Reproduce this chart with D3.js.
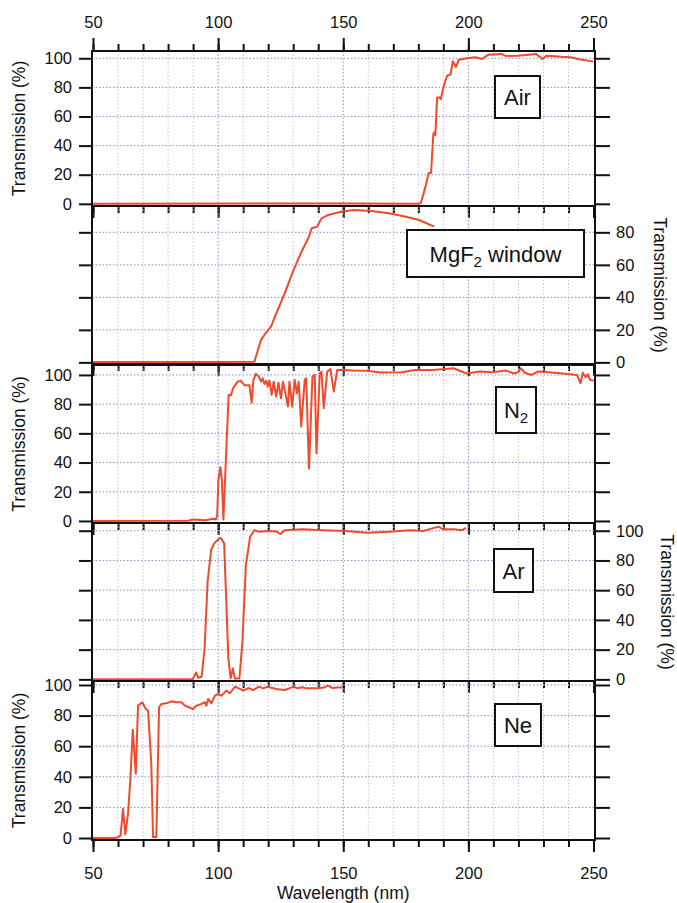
<!DOCTYPE html>
<html>
<head>
<meta charset="utf-8">
<script src="https://cdn.jsdelivr.net/npm/d3@7"></script>
<style>
  body { margin: 0; background: #fff; }
  svg text { font-family: "Liberation Sans", Arial, Helvetica, sans-serif; fill: #111; }
</style>
</head>
<body>
<div id="chart"></div>
<script>
// data (wavelength in nm, transmission in %)
const airNm = [50, 120, 150, 180, 181, 182.9, 184.1, 185.1, 186, 186.3, 186.8, 187.5, 188.4, 189, 190.3, 191.5, 192.9, 193.8, 195, 196.2, 199.3, 202.8, 205.4, 208, 213.1, 214.9, 220, 227, 229.6, 231.3, 237.4, 240.8, 244.3, 250];
const airT = [0, 0.2, 0.3, 0, 0.5, 12, 21, 21.4, 48, 49, 47, 73, 73, 72, 82, 88, 89, 98, 94, 99, 100, 100.7, 99.5, 102.5, 103, 101.6, 101.8, 103, 99.5, 101.8, 101, 100.7, 99.3, 97.7];

const mgf2Nm = [50, 100, 114.5, 115.9, 117.1, 118.9, 121.1, 123.2, 126.6, 130.1, 133.6, 136.2, 137.4, 139.6, 141.3, 144, 149.1, 154.3, 161.2, 168.2, 175.1, 180.3, 186.3];
const mgf2T = [0.2, 0.3, 0.4, 7.6, 13.7, 17.8, 22, 30, 42.5, 56.8, 69, 77, 82.5, 83.5, 88.6, 90.7, 92.7, 93.7, 93.1, 91.7, 89.6, 87.6, 83.5];

const n2Nm = [50, 88, 90, 95, 98, 99, 99.6, 100.1, 100.9, 101.5, 102.1, 103.1, 104.2, 105.1, 106, 107.8, 109.1, 110.5, 112.5, 113.4, 114.1, 115.1, 116.2, 117.2, 117.8, 118.5, 119.2, 119.8, 120.5, 121.4, 122.2, 123.2, 124.1, 125.1, 125.9, 126.9, 127.9, 128.5, 129.6, 130.6, 131.5, 132.2, 133.2, 134.6, 135.2, 136.3, 137.7, 138.6, 139.3, 140.6, 141.3, 142.2, 143.6, 144.9, 146.2, 147.6, 150, 154, 159.4, 164.7, 173.4, 178.5, 185.5, 194.1, 199.3, 204.5, 209.7, 214.9, 218.3, 220, 220.9, 222.6, 225.2, 227.8, 232.2, 237.4, 240.8, 243.4, 244.8, 245.7, 246.9, 247.7, 248.6, 250];
const n2T = [0, 0.2, 1, 0.5, 1.5, 1, 3, 28, 36.8, 28, 1, 41.8, 86.3, 86, 91, 95.4, 96, 93, 93, 81, 96.6, 100.7, 98.9, 95.4, 97.7, 93.8, 96, 92, 96, 86.3, 95.4, 85.2, 94.7, 84, 95.4, 87.4, 78.3, 95.4, 78.3, 96.6, 87.4, 95.4, 64.6, 96.6, 97.7, 36, 98.9, 100, 46.3, 101, 102.3, 77.2, 102.3, 104, 88.6, 103.4, 103.4, 103, 102.8, 101.6, 101.8, 103.4, 103.4, 104.6, 101, 102.3, 101.8, 103, 101, 102, 104.6, 101.5, 100, 102.3, 101.8, 101, 100.5, 100, 94.3, 101.5, 98.4, 100.5, 96.6, 96];

const arNm = [50, 89.8, 91.2, 92, 93.4, 94.6, 95.8, 97.2, 98.4, 99.8, 101, 102.4, 104.1, 105, 105.9, 106.7, 108.5, 109.7, 111.1, 112.8, 114.5, 116.3, 119.7, 123.2, 124.9, 126.6, 133.6, 142.2, 150.9, 159.5, 168.2, 176.8, 182, 185.5, 188.1, 189.8, 194.1, 197.6, 199];
const arT = [0, 0, 4.7, 1.1, 1.8, 20.9, 65.7, 87, 91.5, 93.7, 95.3, 91.5, 14, 0.7, 7.4, 0.5, 0.5, 25, 77, 96, 100.4, 99.3, 99.8, 99.5, 97.8, 100.4, 101, 100.4, 99.8, 98.7, 99.3, 100.4, 99.8, 101.6, 102.7, 101, 101, 100.4, 102];

const neNm = [50, 58.7, 60, 61, 62, 62.9, 64, 64.9, 65.9, 67.1, 68, 69.7, 71.1, 72, 73.3, 74, 75.3, 76.4, 77.3, 79.3, 81.3, 83.3, 85.3, 86.7, 90, 91.3, 93.3, 94.7, 95.3, 96, 97.3, 98.7, 100, 101.3, 103.3, 104.7, 106.7, 108.7, 110, 112, 114, 116.3, 118, 119.7, 123.2, 126.6, 128.4, 130.1, 131.8, 133.6, 135.3, 137, 139.6, 142.2, 143.9, 145.7, 147.4, 149.6];
const neT = [0, 0, 0.5, 1.7, 19, 2.4, 15.9, 37.6, 70.7, 42, 86.5, 88.7, 84.3, 83.3, 48.5, 0.7, 0.7, 85.4, 87.6, 88, 89.3, 88.7, 88.7, 86.5, 84.3, 86.5, 87.6, 88.7, 86.5, 90.9, 88, 93, 94.1, 93, 96.3, 94.6, 98.9, 97.4, 96.3, 98, 96.7, 98.9, 97.8, 98.9, 97.4, 96.7, 97.8, 98.9, 97.8, 98.5, 97.8, 97.8, 97.8, 98.3, 99.6, 98, 98.3, 98.3];

const xMajor = [50, 100, 150, 200, 250];
const xMinor = d3.range(50, 251, 10);
const yTicks = [0, 20, 40, 60, 80, 100];

// layout
const W = 677, H = 903;
const FRAME_L = 92, FRAME_R = 595;
const LINE_COLOR = "#ef4a2c";
const HGRID = "#8a8ad2";
const VGRID = "#c4c4e2";
const TICK_FONT = 16.5;

const panels = [
  { label: "Air", nm: airNm, t: airT, top: 51, bottom: 206, dom: [-1.5, 105], side: "left", box: [495, 76, 45, 42] },
  { label: "MgF2", nm: mgf2Nm, t: mgf2T, top: 206, bottom: 364, dom: [-1, 96.2], side: "right", box: [407, 230, 177, 47], titleX: 659 },
  { label: "N2", nm: n2Nm, t: n2T, top: 365, bottom: 523, dom: [-1.4, 106.8], side: "left", box: [496, 387, 40, 46] },
  { label: "Ar", nm: arNm, t: arT, top: 523, bottom: 681, dom: [-1.1, 105.2], side: "right", box: [494, 549, 39, 43], titleX: 666 },
  { label: "Ne", nm: neNm, t: neT, top: 681, bottom: 840, dom: [-1.3, 102.6], side: "left", box: [495, 704, 46, 42] }
];

const svg = d3.select("#chart").append("svg")
  .attr("width", W)
  .attr("height", H);

const x = d3.scaleLinear().domain([50, 250]).range([93, 593.5]);

function styleAxis(sel) {
  sel.select(".domain").remove();
  sel.selectAll("line").attr("stroke", "#111").attr("stroke-width", 2);
  sel.selectAll("text").attr("font-size", TICK_FONT).attr("fill", "#111");
}

panels.forEach((p, i) => {
  const y = d3.scaleLinear().domain(p.dom).range([p.bottom, p.top]);
  const ticks = yTicks.filter(v => y(v) >= p.top - 1);
  const g = svg.append("g");

  // grid
  g.append("g").selectAll("line")
    .data(xMinor.filter(v => v > 50 && v < 250))
    .join("line")
    .attr("x1", d => x(d)).attr("x2", d => x(d))
    .attr("y1", p.top).attr("y2", p.bottom)
    .attr("stroke", d => d % 50 === 0 ? HGRID : VGRID)
    .attr("stroke-width", 1)
    .attr("stroke-dasharray", "1.5,2");
  g.append("g").selectAll("line")
    .data(yTicks.filter(v => v > 0 && y(v) > p.top + 2))
    .join("line")
    .attr("x1", FRAME_L).attr("x2", FRAME_R)
    .attr("y1", d => y(d)).attr("y2", d => y(d))
    .attr("stroke", HGRID)
    .attr("stroke-width", 1)
    .attr("stroke-dasharray", "1.5,2");

  // curve
  const line = d3.line()
    .x(d => x(d[0]))
    .y(d => y(d[1]));
  g.append("path")
    .datum(d3.zip(p.nm, p.t))
    .attr("d", line)
    .attr("fill", "none")
    .attr("stroke", LINE_COLOR)
    .attr("stroke-width", 2)
    .attr("stroke-linejoin", "round");

  // frame
  g.append("rect")
    .attr("x", FRAME_L).attr("y", p.top)
    .attr("width", FRAME_R - FRAME_L).attr("height", p.bottom - p.top)
    .attr("fill", "none")
    .attr("stroke", "#111")
    .attr("stroke-width", 2);

  // y axes, labels on one side only
  g.append("g")
    .attr("transform", `translate(${FRAME_L},0)`)
    .call(d3.axisLeft(y).tickValues(ticks).tickSize(13).tickPadding(7)
      .tickFormat(p.side === "left" ? d3.format("d") : ""))
    .call(styleAxis);
  g.append("g")
    .attr("transform", `translate(${FRAME_R},0)`)
    .call(d3.axisRight(y).tickValues(ticks).tickSize(15).tickPadding(6)
      .tickFormat(p.side === "right" ? d3.format("d") : ""))
    .call(styleAxis);

  // y title
  const midY = (p.top + p.bottom) / 2;
  const title = g.append("text")
    .attr("text-anchor", "middle")
    .attr("dominant-baseline", "middle")
    .attr("font-size", 17.5)
    .text("Transmission (%)");
  if (p.side === "left") {
    title.attr("transform", `translate(20,${midY}) rotate(-90)`);
  } else {
    title.attr("transform", `translate(${p.titleX},${midY}) rotate(90)`);
  }

  // x ticks at panel bottom (pointing down)
  const last = i === panels.length - 1;
  g.append("g")
    .attr("transform", `translate(0,${p.bottom})`)
    .call(d3.axisBottom(x).tickValues(xMinor).tickSize(7).tickFormat(""))
    .call(styleAxis);
  g.append("g")
    .attr("transform", `translate(0,${p.bottom})`)
    .call(d3.axisBottom(x).tickValues(xMajor).tickSize(12).tickPadding(15)
      .tickFormat(last ? d3.format("d") : ""))
    .call(styleAxis);

  // label box
  const [bx, by, bw, bh] = p.box;
  g.append("rect")
    .attr("x", bx).attr("y", by)
    .attr("width", bw).attr("height", bh)
    .attr("fill", "#fff")
    .attr("stroke", "#111")
    .attr("stroke-width", 2);
  const t = g.append("text")
    .attr("x", bx + bw / 2)
    .attr("y", by + bh / 2 + 8)
    .attr("text-anchor", "middle")
    .attr("font-size", 22);
  if (p.label === "MgF2") {
    t.append("tspan").text("MgF");
    t.append("tspan").attr("font-size", 15).attr("dy", 5).text("2");
    t.append("tspan").attr("dy", -5).text(" window");
  } else if (p.label === "N2") {
    t.append("tspan").text("N");
    t.append("tspan").attr("font-size", 15).attr("dy", 5).text("2");
  } else {
    t.text(p.label);
  }
});

// top axis
svg.append("g")
  .attr("transform", `translate(0,${panels[0].top})`)
  .call(d3.axisTop(x).tickValues(xMinor).tickSize(7).tickFormat(""))
  .call(styleAxis);
svg.append("g")
  .attr("transform", `translate(0,${panels[0].top})`)
  .call(d3.axisTop(x).tickValues(xMajor).tickSize(13).tickPadding(10).tickFormat(d3.format("d")))
  .call(styleAxis);

// x title
svg.append("text")
  .attr("x", (x(50) + x(250)) / 2)
  .attr("y", 899)
  .attr("text-anchor", "middle")
  .attr("font-size", 17.5)
  .text("Wavelength (nm)");
</script>
</body>
</html>
